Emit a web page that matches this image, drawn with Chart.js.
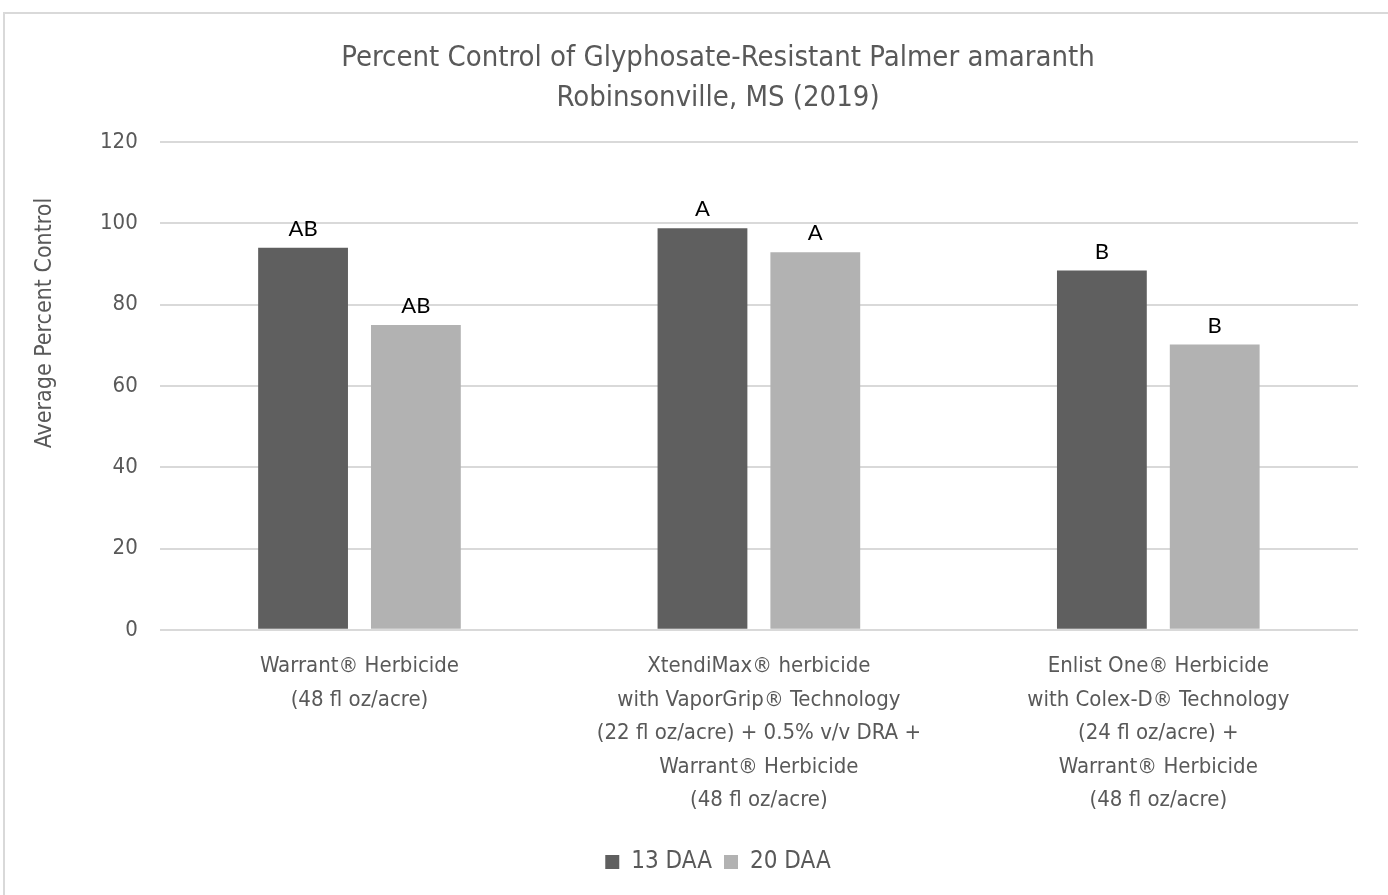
<!DOCTYPE html>
<html>
<head>
<meta charset="utf-8">
<script src="https://cdn.jsdelivr.net/npm/chart.js@4"></script>
<style>
  html,body{margin:0;padding:0;background:#fff;overflow:hidden;}
  #frame{position:absolute;left:3px;top:12px;width:1400px;height:900px;border:2px solid #d9d9d9;box-sizing:border-box;}
  #wrap{position:absolute;left:0;top:0;width:1388px;height:895px;}
</style>
</head>
<body>
<div id="frame"></div>
<div id="wrap"><canvas id="c"></canvas></div>
<script>
// data
const categories = [
  ['Warrant\u00ae Herbicide','(48 fl oz/acre)'],
  ['XtendiMax\u00ae herbicide','with VaporGrip\u00ae Technology','(22 fl oz/acre) + 0.5% v/v DRA +','Warrant\u00ae Herbicide','(48 fl oz/acre)'],
  ['Enlist One\u00ae Herbicide','with Colex-D\u00ae Technology','(24 fl oz/acre) +','Warrant\u00ae Herbicide','(48 fl oz/acre)']
];
const daa13 = [94, 98.8, 88.4];
const daa20 = [75, 92.9, 70.2];
const letters13 = ['AB','A','B'];
const letters20 = ['AB','A','B'];
const yTicks = [0,20,40,60,80,100,120];

const FONT = "'Liberation Sans Narrow','DejaVu Sans Condensed',sans-serif";
const TXT = '#595959';

const letterPlugin = {
  id:'letters',
  afterDatasetsDraw(chart){
    const ctx = chart.ctx;
    ctx.save();
    ctx.font = "22px Lato, 'Open Sans', sans-serif";
    ctx.fillStyle = '#000';
    ctx.textAlign = 'center';
    ctx.textBaseline = 'bottom';
    [letters13, letters20].forEach((lab,di)=>{
      chart.getDatasetMeta(di).data.forEach((bar,i)=>{
        ctx.fillText(lab[i], bar.x, bar.y - 8);
      });
    });
    ctx.restore();
  }
};

const yTitlePlugin = {
  id:'ytitle',
  afterDraw(chart){
    const ctx = chart.ctx;
    ctx.save();
    ctx.translate(45, 323);
    ctx.rotate(-Math.PI/2);
    ctx.font = "23px " + FONT;
    ctx.fillStyle = TXT;
    ctx.textAlign = 'center';
    ctx.textBaseline = 'middle';
    ctx.fillText('Average Percent Control', 0, 0);
    ctx.restore();
  }
};

new Chart(document.getElementById('c'), {
  type:'bar',
  data:{
    labels: categories,
    datasets:[
      {label:'13 DAA', data:daa13, backgroundColor:'#5f5f5f', categoryPercentage:0.565, barPercentage:0.796},
      {label:'20 DAA', data:daa20, backgroundColor:'#b2b2b2', categoryPercentage:0.565, barPercentage:0.796}
    ]
  },
  options:{
    responsive:true, maintainAspectRatio:false, animation:false,
    layout:{padding:{left:78, right:30, top:0, bottom:11}},
    plugins:{
      title:{display:true, text:['Percent Control of Glyphosate-Resistant Palmer amaranth','Robinsonville, MS (2019)'],
        color:TXT, font:{family:FONT, size:29, weight:'normal', lineHeight:1.38}, padding:{top:38, bottom:24}},
      legend:{position:'bottom', labels:{color:TXT, font:{family:FONT, size:24}, boxWidth:14, boxHeight:14, padding:12, useBorderRadius:false}},
      tooltip:{enabled:false}
    },
    scales:{
      x:{
        grid:{display:false}, border:{display:false},
        afterFit(axis){ axis.height += 9; },
        ticks:{color:TXT, font:{family:FONT, size:22, lineHeight:1.52}, maxRotation:0, padding:12}
      },
      y:{
        min:0, max:120,
        afterBuildTicks(axis){ axis.ticks = yTicks.map(v=>({value:v})); },
        grid:{color:'#d9d9d9', lineWidth:2, drawTicks:false}, border:{display:false},
        ticks:{color:TXT, font:{family:FONT, size:22}, padding:22}
      }
    }
  },
  plugins:[letterPlugin, yTitlePlugin]
});
</script>
</body>
</html>
